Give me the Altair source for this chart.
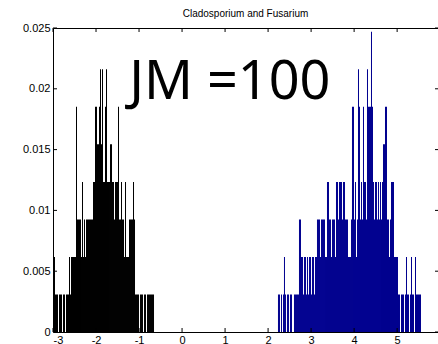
import altair as alt
import pandas as pd

# ---- data ----
TITLE = "Cladosporium and Fusarium"
ANNOTATION = "JM =100"
N_SAMPLES = 324            # heights are count / N_SAMPLES
BIN_WIDTH = 0.02325

BLACK_START = -3.0
black_counts = [
    2, 2, 1, 1, 1, 0, 1, 1, 1, 0,
    1, 1, 0, 1, 1, 1, 2, 1, 2, 2,
    2, 2, 2, 6, 3, 3, 3, 3, 2, 4,
    2, 3, 2, 3, 3, 3, 3, 3, 3, 3,
    4, 4, 6, 6, 5, 5, 6, 7, 5, 7,
    4, 4, 6, 7, 4, 4, 4, 5, 5, 4,
    4, 3, 4, 4, 4, 6, 3, 3, 4, 3,
    3, 2, 4, 2, 2, 2, 3, 3, 3, 3,
    4, 3, 1, 1, 1, 1, 0, 1, 1, 1,
    0, 1, 1, 0, 1, 1, 1, 1, 1, 1,
    1,
]

BLUE_START = 2.23
blue_counts = [
    1, 1, 0, 1, 0, 1, 2, 1, 0, 1,
    1, 0, 1, 1, 0, 0, 1, 1, 1, 1,
    1, 3, 3, 2, 2, 1, 2, 2, 1, 2,
    1, 2, 2, 1, 2, 2, 1, 2, 2, 3,
    3, 3, 2, 3, 3, 3, 3, 2, 2, 4,
    4, 3, 3, 2, 3, 3, 3, 2, 4, 4,
    3, 4, 4, 4, 3, 4, 4, 3, 3, 3,
    2, 2, 2, 3, 6, 6, 3, 4, 2, 3,
    7, 6, 3, 4, 3, 6, 4, 4, 3, 7,
    6, 6, 6, 8, 6, 4, 3, 4, 4, 3,
    4, 3, 4, 3, 4, 5, 5, 6, 6, 3,
    3, 2, 3, 4, 4, 4, 2, 2, 2, 2,
    1, 1, 0, 1, 1, 1, 0, 1, 2, 1,
    1, 0, 1, 2, 1, 1, 0, 2, 1, 1,
    1, 1, 1,
]

X_TICKS = [-3, -2, -1, 0, 1, 2, 3, 4, 5]
Y_TICKS = [0, 0.005, 0.01, 0.015, 0.02, 0.025]
X_DOMAIN = [-3, 5.95]
Y_DOMAIN = [0, 0.025]
ANNOT_X, ANNOT_Y = -1.23, 0.0192

BLACK = "#000000"
NAVY = "#00008f"

# ---- build table ----
rows = []
for start, counts, col in [(BLACK_START, black_counts, BLACK), (BLUE_START, blue_counts, NAVY)]:
    for i, c in enumerate(counts):
        if c == 0:
            continue
        x0 = start + i * BIN_WIDTH
        rows.append({"x0": x0, "x1": x0 + BIN_WIDTH, "h": c / N_SAMPLES, "base": 0.0, "col": col})
bars_df = pd.DataFrame(rows)
xt_df = pd.DataFrame({"v": X_TICKS})
yt_df = pd.DataFrame({"v": Y_TICKS})
txt_df = pd.DataFrame({"x": [ANNOT_X], "y": [ANNOT_Y], "t": [ANNOTATION]})

W, H = 385, 304
FONT = "Liberation Sans"

xscale = alt.Scale(domain=X_DOMAIN, nice=False, zero=False)
yscale = alt.Scale(domain=Y_DOMAIN, nice=False)

xaxis = alt.Axis(values=X_TICKS, labelExpr="'' + datum.value", ticks=False, domain=False,
                 grid=False, title=None, labelFont=FONT, labelFontSize=11,
                 labelColor="black", labelPadding=2)
yaxis = alt.Axis(values=Y_TICKS, format="~g", ticks=False, domain=False, grid=False,
                 title=None, labelFont=FONT, labelFontSize=11, labelColor="black",
                 labelPadding=3)

bars = alt.Chart(bars_df).mark_rect(clip=True, strokeWidth=0).encode(
    x=alt.X("x0:Q", scale=xscale, axis=xaxis),
    x2="x1:Q",
    y=alt.Y("h:Q", scale=yscale, axis=yaxis),
    y2="base:Q",
    color=alt.Color("col:N", scale=None),
)

tick_len = 4
bottom_ticks = alt.Chart(xt_df).mark_rule(color="black", strokeWidth=1).encode(
    x=alt.X("v:Q", scale=xscale), y=alt.value(H - tick_len), y2=alt.value(H))
top_ticks = alt.Chart(xt_df).mark_rule(color="black", strokeWidth=1).encode(
    x=alt.X("v:Q", scale=xscale), y=alt.value(0), y2=alt.value(tick_len))
left_ticks = alt.Chart(yt_df).mark_rule(color="black", strokeWidth=1).encode(
    y=alt.Y("v:Q", scale=yscale), x=alt.value(0), x2=alt.value(tick_len))
right_ticks = alt.Chart(yt_df).mark_rule(color="black", strokeWidth=1).encode(
    y=alt.Y("v:Q", scale=yscale), x=alt.value(W - 3), x2=alt.value(W))

annot = alt.Chart(txt_df).mark_text(font="Noto Sans", fontSize=54, color="black",
                                    align="left", baseline="alphabetic").encode(
    x=alt.X("x:Q", scale=xscale), y=alt.Y("y:Q", scale=yscale), text="t:N")

chart = alt.layer(bars, bottom_ticks, top_ticks, left_ticks, right_ticks, annot).properties(
    width=W, height=H,
    title=alt.TitleParams(TITLE, font=FONT, fontSize=10, fontWeight="normal",
                          color="black", anchor="middle", baseline="alphabetic",
                          offset=10, dy=15),
    autosize=alt.AutoSizeParams(type="none"),
    padding={"left": 53, "top": 28, "right": 0, "bottom": 12},
    background="white",
).configure_view(stroke="black", strokeWidth=1)

chart.save("out.html", embed_options={"renderer": "svg", "actions": False})
